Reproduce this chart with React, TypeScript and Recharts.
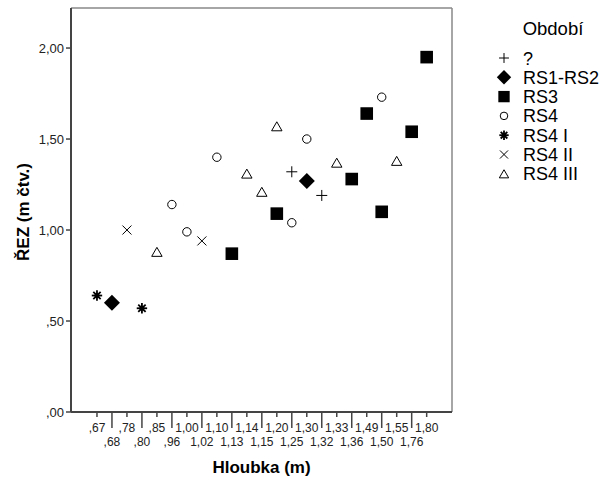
import React from "react";
import { ScatterChart, Scatter, XAxis, YAxis, ReferenceLine, Legend } from "recharts";

const categories = [",67", ",68", ",78", ",80", ",85", ",96", "1,00", "1,02", "1,10", "1,13", "1,14", "1,15", "1,20", "1,25", "1,30", "1,32", "1,33", "1,36", "1,49", "1,50", "1,55", "1,76", "1,80"];
const yTicks = [0, 0.5, 1, 1.5, 2];

const unknownPts: [string, number][] = [["1,25", 1.32], ["1,32", 1.19]];
const rs12Pts: [string, number][] = [[",68", 0.6], ["1,30", 1.27]];
const rs3Pts: [string, number][] = [["1,13", 0.87], ["1,20", 1.09], ["1,36", 1.28], ["1,49", 1.64], ["1,50", 1.1], ["1,76", 1.54], ["1,80", 1.95]];
const rs4Pts: [string, number][] = [[",96", 1.14], ["1,00", 0.99], ["1,10", 1.4], ["1,25", 1.04], ["1,30", 1.5], ["1,50", 1.73]];
const rs4iPts: [string, number][] = [[",67", 0.64], [",80", 0.57]];
const rs4iiPts: [string, number][] = [[",78", 1.0], ["1,02", 0.94]];
const rs4iiiPts: [string, number][] = [[",85", 0.88], ["1,14", 1.31], ["1,15", 1.21], ["1,20", 1.57], ["1,33", 1.37], ["1,55", 1.38]];

const seriesNames = ["?", "RS1-RS2", "RS3", "RS4", "RS4 I", "RS4 II", "RS4 III"];
const seriesPts = [unknownPts, rs12Pts, rs3Pts, rs4Pts, rs4iPts, rs4iiPts, rs4iiiPts];
const seriesKinds = ["plus", "diamond", "square", "circle", "asterisk", "cross", "triangle"];

const FONT = "Arial, 'Liberation Sans', sans-serif";
const X_MIN = -1.733;
const X_MAX = 23.69;
const Y_MAX = 2.22;

const toData = (pts: [string, number][]) => pts.map(([c, v]) => ({ x: categories.indexOf(c), y: v }));

function Marker({ kind, cx, cy, s = 1 }: { kind: string; cx: number; cy: number; s?: number }) {
  switch (kind) {
    case "plus": {
      const h = 5.5 * s;
      return (
        <g stroke="#000" strokeWidth={1}>
          <line x1={cx - h} y1={cy} x2={cx + h} y2={cy} />
          <line x1={cx} y1={cy - h} x2={cx} y2={cy + h} />
        </g>
      );
    }
    case "diamond": {
      const h = 8 * s;
      return <polygon points={`${cx},${cy - h} ${cx + h},${cy} ${cx},${cy + h} ${cx - h},${cy}`} fill="#000" />;
    }
    case "square": {
      const h = 6.3 * s;
      return <rect x={cx - h} y={cy - h} width={2 * h} height={2 * h} fill="#000" />;
    }
    case "circle":
      return <circle cx={cx} cy={cy} r={4.2 * s} fill="#fff" stroke="#000" strokeWidth={1} />;
    case "asterisk": {
      const h = 5.2 * s;
      const d = h * 0.707;
      return (
        <g stroke="#000" strokeWidth={1.8}>
          <line x1={cx - h} y1={cy} x2={cx + h} y2={cy} />
          <line x1={cx} y1={cy - h} x2={cx} y2={cy + h} />
          <line x1={cx - d} y1={cy - d} x2={cx + d} y2={cy + d} />
          <line x1={cx - d} y1={cy + d} x2={cx + d} y2={cy - d} />
          <circle cx={cx} cy={cy} r={2.5 * s} fill="#000" stroke="none" />
        </g>
      );
    }
    case "cross": {
      const h = 4.5 * s;
      return (
        <g stroke="#000" strokeWidth={1}>
          <line x1={cx - h} y1={cy - h} x2={cx + h} y2={cy + h} />
          <line x1={cx - h} y1={cy + h} x2={cx + h} y2={cy - h} />
        </g>
      );
    }
    case "triangle": {
      const w = 5.2 * s;
      const h = 4.5 * s;
      return <polygon points={`${cx},${cy - h} ${cx + w},${cy + h} ${cx - w},${cy + h}`} fill="#fff" stroke="#000" strokeWidth={1} />;
    }
    default:
      return null;
  }
}

const XTick = (props: any) => {
  const { x, y, payload } = props;
  const i = payload.value as number;
  const odd = i % 2 === 1;
  return (
    <g>
      <line x1={x} y1={y} x2={x} y2={y + (odd ? 16 : 5)} stroke="#444" strokeWidth={1.5} />
      <text x={x} y={y + (odd ? 34 : 20)} textAnchor="middle" fontSize={12} fill="#222" fontFamily={FONT}>
        {categories[i]}
      </text>
    </g>
  );
};

const fmtY = (v: number) => {
  const s = v.toFixed(2).replace(".", ",");
  return s.startsWith("0") ? s.slice(1) : s;
};

const LegendBox = () => (
  <svg width={116} height={190} style={{ display: "block" }}>
    <text x={63} y={35} textAnchor="middle" fontSize={18.5} fontFamily={FONT} fill="#000">
      Období
    </text>
    {seriesNames.map((n, i) => {
      const cy = 58 + i * 19.3;
      return (
        <g key={n}>
          <Marker kind={seriesKinds[i]} cx={14} cy={cy} s={0.9} />
          <text x={33} y={cy + 6.5} fontSize={18} fontFamily={FONT} fill="#000">
            {n}
          </text>
        </g>
      );
    })}
  </svg>
);

export default function App() {
  return (
    <div style={{ position: "absolute", left: 0, top: 0, width: 606, height: 478, background: "#fff" }}>
      <ScatterChart width={606} height={478} margin={{ top: 8, right: 154, bottom: 0, left: 11 }}>
        <XAxis
          type="number"
          dataKey="x"
          domain={[X_MIN, X_MAX]}
          allowDataOverflow
          ticks={categories.map((_, i) => i)}
          interval={0}
          tickSize={0}
          tickMargin={0}
          tickLine={false}
          tick={<XTick />}
          height={66}
          axisLine={{ stroke: "#444", strokeWidth: 2 }}
          label={{
            content: (p: any) => (
              <text x={p.viewBox.x + p.viewBox.width / 2} y={473} textAnchor="middle" fontSize={17} fontWeight="bold" fontFamily={FONT} fill="#000">
                Hloubka (m)
              </text>
            ),
          }}
        />
        <YAxis
          type="number"
          dataKey="y"
          domain={[0, Y_MAX]}
          allowDataOverflow
          ticks={yTicks}
          interval={0}
          tickFormatter={fmtY}
          tickSize={5}
          tickMargin={2}
          width={60}
          tick={{ fontSize: 13, fill: "#222", fontFamily: FONT }}
          tickLine={{ stroke: "#444", strokeWidth: 1.5 }}
          axisLine={{ stroke: "#444", strokeWidth: 2 }}
          label={{
            content: (p: any) => {
              const cy = p.viewBox.y + p.viewBox.height / 2 + 2;
              return (
                <text x={29} y={cy} transform={`rotate(-90, 29, ${cy})`} textAnchor="middle" fontSize={17} fontWeight="bold" fontFamily={FONT} fill="#000">
                  ŘEZ (m čtv.)
                </text>
              );
            },
          }}
        />
        <ReferenceLine y={Y_MAX} stroke="#888" strokeWidth={1.5} />
        <ReferenceLine x={X_MAX} stroke="#888" strokeWidth={1.5} />
        <Legend
          layout="vertical"
          align="center"
          verticalAlign="middle"
          wrapperStyle={{ left: 490, top: 0, width: 116 }}
          content={() => <LegendBox />}
        />
        {seriesNames.map((n, i) => (
          <Scatter
            key={n}
            name={n}
            data={toData(seriesPts[i])}
            isAnimationActive={false}
            shape={(p: any) => <Marker kind={seriesKinds[i]} cx={p.cx} cy={p.cy} />}
          />
        ))}
      </ScatterChart>
    </div>
  );
}
